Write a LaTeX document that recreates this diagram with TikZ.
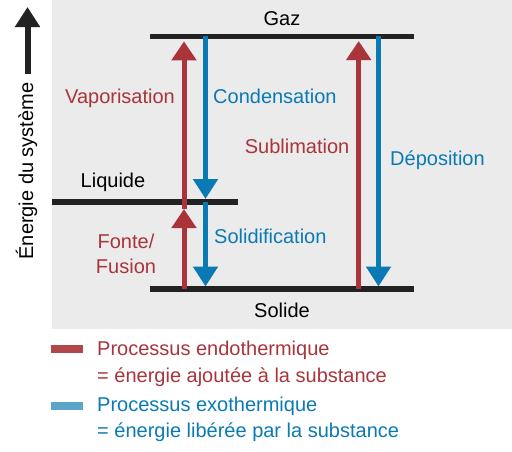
\documentclass[tikz,border=0pt]{standalone}
\usepackage{fontspec}
\setmainfont{Liberation Sans}
\usetikzlibrary{arrows.meta}
\definecolor{bggray}{RGB}{235,235,235}
\definecolor{endored}{RGB}{169,52,58}
\definecolor{exoblue}{RGB}{10,122,181}
\definecolor{endobar}{RGB}{178,70,72}
\definecolor{exobar}{RGB}{92,164,200}
\definecolor{levelblack}{RGB}{34,34,34}
\tikzset{
  level/.style={levelblack,line width=5.5pt},
  endo/.style={endored,line width=5pt,-{Triangle[width=24pt,length=19pt]}},
  exo/.style={exoblue,line width=5pt,-{Triangle[width=24pt,length=20pt]}},
  lbl/.style={font=\fontsize{20}{26}\selectfont,inner sep=0pt,anchor=base},
  legbar/.style={line width=8pt}
}

\begin{document}
\begin{tikzpicture}[x=1pt,y=-1pt]
\useasboundingbox (0,0) rectangle (512,451);
\fill[bggray] (51.7,0) rectangle (512,328.5);

% energy axis
\coordinate (ebot) at (27.5,74);
\coordinate (etop) at (27.5,7);
\draw[levelblack,line width=6pt,-{Triangle[width=24pt,length=20pt]}] (ebot) -- (etop);
\node[lbl,rotate=90] (energie) at (33,171) {Énergie du système};

% levels
\draw[level] (150,36.3) coordinate (gazL) -- (414,36.3) coordinate (gazR);
\draw[level] (51.7,202) coordinate (liqL) -- (238,202) coordinate (liqR);
\draw[level] (150,289.2) coordinate (solL) -- (414,289.2) coordinate (solR);
\node[lbl] (gaz) at (282,25) {Gaz};
\node[lbl] (liquide) at (113,187) {Liquide};
\node[lbl] (solide) at (282,317) {Solide};

% points on the levels
\coordinate (s1) at (184,289.2);
\coordinate (l1) at (184,209);
\coordinate (g1) at (184,41.3);
\coordinate (g2) at (205.5,36.3);
\coordinate (l2) at (205.5,199);
\coordinate (l2b) at (205.5,202);
\coordinate (s2) at (205.5,286.5);
\coordinate (s3) at (358.7,289.2);
\coordinate (g3) at (358.7,41);
\coordinate (g4) at (378.5,36.3);
\coordinate (s4) at (378.5,286.5);

\draw[endo] (s1) -- (l1);
\draw[endo] (l1) -- (g1);
\draw[endo] (s3) -- (g3);
\draw[exo] (g2) -- (l2);
\draw[exo] (l2b) -- (s2);
\draw[exo] (g4) -- (s4);

\node[lbl,endored] (vapo) at (120,103.5) {Vaporisation};
\node[lbl,exoblue,anchor=base west] (conde) at (213,103.5) {Condensation};
\node[lbl,endored,anchor=base east] (subli) at (349.5,153) {Sublimation};
\node[lbl,exoblue,anchor=base west] (depo) at (390,165) {Déposition};
\node[lbl,endored] (fonte) at (126,248) {Fonte/};
\node[lbl,endored] (fusion) at (126,273) {Fusion};
\node[lbl,exoblue,anchor=base west] (solid) at (214,243) {Solidification};

% legend
\draw[legbar,endobar] (50.7,349) coordinate (rb1) -- (83.3,349) coordinate (rb2);
\draw[legbar,exobar] (50.7,405.5) coordinate (bb1) -- (83.3,405.5) coordinate (bb2);
\node[lbl,endored,anchor=base west] (endo1) at (97,355) {Processus endothermique};
\node[lbl,endored,anchor=base west] (endo2) at (97,382) {= énergie ajoutée à la substance};
\node[lbl,exoblue,anchor=base west] (exo1) at (97,411) {Processus exothermique};
\node[lbl,exoblue,anchor=base west] (exo2) at (97,437.5) {= énergie libérée par la substance};
\end{tikzpicture}
\end{document}
